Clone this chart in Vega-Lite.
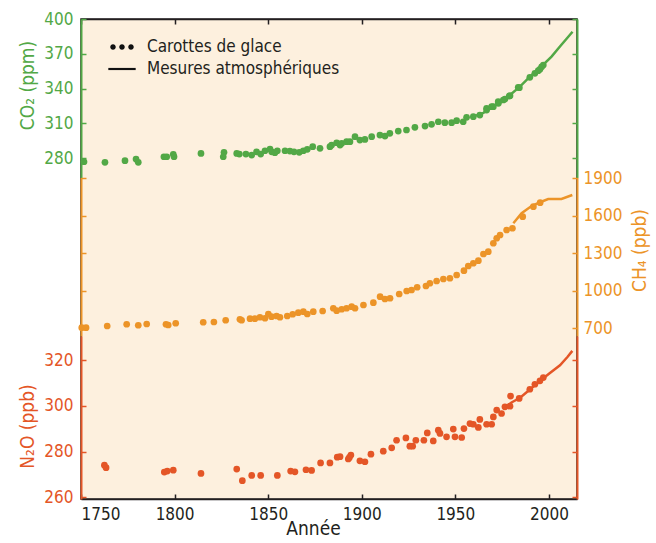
{
  "$schema": "https://vega.github.io/schema/vega-lite/v6.json",
  "width": 496,
  "height": 480,
  "autosize": {"type": "none"},
  "padding": {"left": 81, "top": 19, "right": 79, "bottom": 44},
  "background": "#ffffff",
  "view": {"fill": "#fdf0de", "stroke": "#231f20", "strokeWidth": 1.5},
  "config": {
    "font": "Liberation Sans Narrow, DejaVu Sans Condensed, sans-serif",
    "axis": {
      "grid": false,
      "labelFont": "Liberation Sans Narrow, DejaVu Sans Condensed, sans-serif",
      "titleFont": "Liberation Sans Narrow, DejaVu Sans Condensed, sans-serif",
      "labelFontSize": 17,
      "titleFontSize": 19,
      "titleFontWeight": "normal",
      "tickSize": -5,
      "tickWidth": 1.5,
      "domainWidth": 2,
      "labelPadding": 13,
      "format": "d"
    }
  },
  "datasets": {
    "co2_ice": [
      {"year": 1751.6, "value": 276.8}, {"year": 1762.8, "value": 276.3}, {"year": 1773.5, "value": 277.7},
      {"year": 1779.4, "value": 279.1}, {"year": 1780.6, "value": 276.3}, {"year": 1794.3, "value": 281.1},
      {"year": 1795.8, "value": 281.1}, {"year": 1799.3, "value": 283.2}, {"year": 1799.7, "value": 281.1},
      {"year": 1814.1, "value": 284.0}, {"year": 1826.4, "value": 284.9}, {"year": 1826.0, "value": 281.1},
      {"year": 1833.2, "value": 284.0}, {"year": 1834.6, "value": 283.4}, {"year": 1838.1, "value": 283.4},
      {"year": 1841.2, "value": 282.6}, {"year": 1843.8, "value": 285.4}, {"year": 1846.0, "value": 283.4},
      {"year": 1848.3, "value": 286.3}, {"year": 1851.0, "value": 287.8}, {"year": 1851.9, "value": 285.4},
      {"year": 1853.6, "value": 284.6}, {"year": 1854.9, "value": 286.3}, {"year": 1859.0, "value": 286.3},
      {"year": 1861.6, "value": 286.0}, {"year": 1863.8, "value": 285.4}, {"year": 1866.6, "value": 284.9},
      {"year": 1868.8, "value": 286.3}, {"year": 1870.9, "value": 287.5}, {"year": 1873.8, "value": 289.8},
      {"year": 1877.7, "value": 288.4}, {"year": 1883.0, "value": 289.8}, {"year": 1883.9, "value": 291.2},
      {"year": 1886.6, "value": 293.2}, {"year": 1888.4, "value": 291.2}, {"year": 1889.3, "value": 292.7},
      {"year": 1891.9, "value": 294.1}, {"year": 1893.7, "value": 294.1}, {"year": 1896.4, "value": 298.4},
      {"year": 1899.0, "value": 295.5}, {"year": 1901.7, "value": 296.1}, {"year": 1905.3, "value": 298.4},
      {"year": 1909.7, "value": 299.8}, {"year": 1912.4, "value": 299.0}, {"year": 1915.0, "value": 301.3},
      {"year": 1919.5, "value": 303.3}, {"year": 1923.9, "value": 304.2}, {"year": 1928.4, "value": 306.5},
      {"year": 1933.8, "value": 307.6}, {"year": 1937.3, "value": 309.1}, {"year": 1940.9, "value": 311.3},
      {"year": 1944.4, "value": 310.5}, {"year": 1948.0, "value": 310.5}, {"year": 1950.7, "value": 312.2},
      {"year": 1954.2, "value": 311.3}, {"year": 1956.0, "value": 315.1}, {"year": 1959.6, "value": 315.7},
      {"year": 1963.1, "value": 317.1}, {"year": 1966.7, "value": 321.4}, {"year": 1966.7, "value": 322.9},
      {"year": 1969.4, "value": 324.3}, {"year": 1970.3, "value": 324.3}, {"year": 1972.9, "value": 328.6},
      {"year": 1973.0, "value": 327.2}, {"year": 1975.6, "value": 330.1}, {"year": 1976.5, "value": 330.9},
      {"year": 1978.8, "value": 333.5}, {"year": 1979.2, "value": 333.8}, {"year": 1983.6, "value": 341.0},
      {"year": 1984.2, "value": 340.7}, {"year": 1989.8, "value": 349.7}, {"year": 1992.5, "value": 353.1},
      {"year": 1994.3, "value": 355.4}, {"year": 1995.2, "value": 356.6}, {"year": 1996.1, "value": 358.8},
      {"year": 1997.0, "value": 360.3}
    ],
    "co2_atm": [
      {"year": 1959, "value": 315.5}, {"year": 1965, "value": 319}, {"year": 1970, "value": 324},
      {"year": 1975, "value": 329.5}, {"year": 1979.2, "value": 334.4}, {"year": 1984.5, "value": 341.6},
      {"year": 1990, "value": 350.5}, {"year": 1995, "value": 357.5}, {"year": 2001.4, "value": 367.5},
      {"year": 2006, "value": 376.5}, {"year": 2010, "value": 384}, {"year": 2012.6, "value": 389}
    ],
    "ch4_ice": [
      {"year": 1750.4, "value": 705}, {"year": 1752.7, "value": 705}, {"year": 1764.0, "value": 718},
      {"year": 1774.4, "value": 732}, {"year": 1780.6, "value": 724}, {"year": 1785.1, "value": 734},
      {"year": 1795.4, "value": 732}, {"year": 1796.6, "value": 726}, {"year": 1800.6, "value": 740},
      {"year": 1815.3, "value": 748}, {"year": 1821.0, "value": 750}, {"year": 1827.3, "value": 764},
      {"year": 1834.9, "value": 772}, {"year": 1835.8, "value": 764}, {"year": 1840.3, "value": 777},
      {"year": 1842.9, "value": 777}, {"year": 1845.6, "value": 788}, {"year": 1848.3, "value": 780},
      {"year": 1850.1, "value": 814}, {"year": 1851.8, "value": 793}, {"year": 1854.5, "value": 798},
      {"year": 1856.3, "value": 788}, {"year": 1860.2, "value": 798}, {"year": 1863.1, "value": 812},
      {"year": 1866.1, "value": 825}, {"year": 1868.8, "value": 833}, {"year": 1870.9, "value": 814},
      {"year": 1874.1, "value": 833}, {"year": 1879.1, "value": 838}, {"year": 1884.8, "value": 860},
      {"year": 1886.6, "value": 841}, {"year": 1889.3, "value": 852}, {"year": 1891.9, "value": 860},
      {"year": 1894.6, "value": 873}, {"year": 1896.4, "value": 860}, {"year": 1900.9, "value": 886},
      {"year": 1906.2, "value": 905}, {"year": 1909.8, "value": 953}, {"year": 1912.4, "value": 934},
      {"year": 1915.1, "value": 940}, {"year": 1920.0, "value": 974}, {"year": 1924.0, "value": 998},
      {"year": 1926.6, "value": 1006}, {"year": 1929.6, "value": 1028}, {"year": 1934.3, "value": 1038},
      {"year": 1936.4, "value": 1060}, {"year": 1940.0, "value": 1078}, {"year": 1943.6, "value": 1094},
      {"year": 1947.1, "value": 1100}, {"year": 1950.7, "value": 1126}, {"year": 1954.6, "value": 1161},
      {"year": 1956.9, "value": 1198}, {"year": 1959.6, "value": 1220}, {"year": 1962.3, "value": 1241},
      {"year": 1965.0, "value": 1294}, {"year": 1967.6, "value": 1313}, {"year": 1970.3, "value": 1380},
      {"year": 1972.1, "value": 1420}, {"year": 1973.9, "value": 1446}, {"year": 1977.4, "value": 1486},
      {"year": 1980.5, "value": 1500}, {"year": 1986.0, "value": 1593}, {"year": 1991.7, "value": 1673},
      {"year": 1995.3, "value": 1705}
    ],
    "ch4_atm": [
      {"year": 1981, "value": 1540}, {"year": 1985.4, "value": 1620}, {"year": 1990.7, "value": 1678},
      {"year": 1995.3, "value": 1708}, {"year": 1999.6, "value": 1734}, {"year": 2006.7, "value": 1734},
      {"year": 2012.5, "value": 1766}
    ],
    "n2o_ice": [
      {"year": 1762.5, "value": 274.1}, {"year": 1763.4, "value": 273.0}, {"year": 1794.5, "value": 271.1},
      {"year": 1796.1, "value": 271.5}, {"year": 1799.3, "value": 271.9}, {"year": 1814.1, "value": 270.5},
      {"year": 1833.2, "value": 272.4}, {"year": 1836.2, "value": 267.3}, {"year": 1841.2, "value": 269.6},
      {"year": 1846.0, "value": 269.6}, {"year": 1854.9, "value": 269.6}, {"year": 1862.0, "value": 271.5},
      {"year": 1864.3, "value": 271.2}, {"year": 1870.2, "value": 272.1}, {"year": 1873.2, "value": 271.8},
      {"year": 1878.0, "value": 275.1}, {"year": 1883.0, "value": 275.1}, {"year": 1886.9, "value": 277.6},
      {"year": 1888.4, "value": 277.8}, {"year": 1892.8, "value": 276.8}, {"year": 1893.4, "value": 277.5},
      {"year": 1894.2, "value": 278.5}, {"year": 1899.0, "value": 276.0}, {"year": 1901.7, "value": 275.6},
      {"year": 1904.9, "value": 278.9}, {"year": 1911.5, "value": 280.2}, {"year": 1916.0, "value": 281.7},
      {"year": 1918.6, "value": 285.0}, {"year": 1923.6, "value": 286.0}, {"year": 1925.7, "value": 282.4},
      {"year": 1927.2, "value": 282.4}, {"year": 1928.9, "value": 285.0}, {"year": 1933.2, "value": 285.0},
      {"year": 1935.0, "value": 288.2}, {"year": 1938.2, "value": 284.7}, {"year": 1940.9, "value": 289.4},
      {"year": 1941.8, "value": 288.0}, {"year": 1945.3, "value": 286.5}, {"year": 1948.9, "value": 289.9},
      {"year": 1949.8, "value": 286.5}, {"year": 1953.4, "value": 286.2}, {"year": 1954.6, "value": 290.1},
      {"year": 1957.8, "value": 292.3}, {"year": 1959.6, "value": 292.0}, {"year": 1962.3, "value": 290.6},
      {"year": 1963.1, "value": 294.1}, {"year": 1966.7, "value": 292.0}, {"year": 1969.4, "value": 292.0},
      {"year": 1970.3, "value": 295.2}, {"year": 1972.1, "value": 298.2}, {"year": 1974.7, "value": 296.7},
      {"year": 1976.5, "value": 299.6}, {"year": 1979.2, "value": 299.9}, {"year": 1979.5, "value": 304.3},
      {"year": 1984.1, "value": 303.3}, {"year": 1989.8, "value": 307.3}, {"year": 1992.5, "value": 309.5},
      {"year": 1995.2, "value": 311.0}, {"year": 1997.0, "value": 312.4}
    ],
    "n2o_atm": [
      {"year": 1977, "value": 299.5}, {"year": 1980, "value": 301.5}, {"year": 1984.6, "value": 303.6},
      {"year": 1990, "value": 307.3}, {"year": 1995, "value": 310.8}, {"year": 2000.2, "value": 314.2},
      {"year": 2005.9, "value": 317.8}, {"year": 2010, "value": 321.5}, {"year": 2012.5, "value": 324.1}
    ],
    "sources": [
      {"source": "Carottes de glace"}, {"source": "Mesures atmosphériques"}
    ]
  },
  "layer": [
    {
      "data": {"name": "co2_ice"},
      "mark": {"type": "circle", "size": 45, "opacity": 1, "color": "#52a846"},
      "encoding": {
        "x": {
          "field": "year", "type": "quantitative",
          "scale": {"domain": [1750, 2015], "nice": false, "zero": false},
          "axis": {
            "orient": "bottom", "values": [1750, 1800, 1850, 1900, 1950, 2000], "format": "d",
            "title": "Année", "titleX": 232, "titleY": 35, "titleBaseline": "alphabetic",
            "domainColor": "#231f20", "domainWidth": 1.5, "tickColor": "#231f20",
            "labelColor": "#231f20", "titleColor": "#231f20", "labelPadding": 12
          }
        },
        "y": {
          "field": "value", "type": "quantitative",
          "scale": {"domain": [263.2, 400], "range": [158.5, 0], "nice": false, "zero": false},
          "axis": {
            "orient": "left", "values": [280, 310, 340, 370, 400], "format": "d",
            "title": "CO₂ (ppm)", "titleAngle": -90, "titleX": -48, "titleY": 66,
            "titleAlign": "center", "titleBaseline": "alphabetic",
            "domainColor": "#52a846", "tickColor": "#52a846",
            "labelColor": "#52a846", "titleColor": "#52a846"
          }
        }
      }
    },
    {
      "data": {"name": "co2_atm"},
      "mark": {"type": "line", "strokeWidth": 2.5, "color": "#52a846"},
      "encoding": {
        "x": {
          "field": "year", "type": "quantitative",
          "scale": {"domain": [1750, 2015], "nice": false, "zero": false},
          "axis": {
            "orient": "top", "values": [1750, 1800, 1850, 1900, 1950, 2000],
            "labels": false, "title": null,
            "domainColor": "#231f20", "domainWidth": 1.5, "tickColor": "#231f20"
          }
        },
        "y": {
          "field": "value", "type": "quantitative",
          "scale": {"domain": [263.2, 400], "range": [158.5, 0], "nice": false, "zero": false},
          "axis": {
            "orient": "right", "values": [280, 310, 340, 370, 400],
            "labels": false, "title": null,
            "domainColor": "#52a846", "tickColor": "#52a846"
          }
        }
      }
    },
    {
      "data": {"name": "ch4_ice"},
      "mark": {"type": "circle", "size": 45, "opacity": 1, "color": "#ec9428"},
      "encoding": {
        "x": {
          "field": "year", "type": "quantitative",
          "scale": {"domain": [1750, 2015], "nice": false, "zero": false},
          "axis": null
        },
        "y": {
          "field": "value", "type": "quantitative",
          "scale": {"domain": [638, 1906], "range": [317, 158.5], "nice": false, "zero": false},
          "axis": {
            "orient": "right", "values": [700, 1000, 1300, 1600, 1900], "format": "d",
            "title": "CH₄ (ppb)", "titleAngle": -90, "titleX": 68, "titleY": 231,
            "titleAlign": "center", "titleBaseline": "alphabetic",
            "labelPadding": 11,
            "domainColor": "#ec9428", "tickColor": "#ec9428",
            "labelColor": "#ec9428", "titleColor": "#ec9428"
          }
        }
      }
    },
    {
      "data": {"name": "ch4_atm"},
      "mark": {"type": "line", "strokeWidth": 2.5, "color": "#ec9428"},
      "encoding": {
        "x": {
          "field": "year", "type": "quantitative",
          "scale": {"domain": [1750, 2015], "nice": false, "zero": false},
          "axis": null
        },
        "y": {
          "field": "value", "type": "quantitative",
          "scale": {"domain": [638, 1906], "range": [317, 158.5], "nice": false, "zero": false},
          "axis": {
            "orient": "left", "values": [700, 1000, 1300, 1600, 1900],
            "labels": false, "title": null,
            "domainColor": "#ec9428", "tickColor": "#ec9428"
          }
        }
      }
    },
    {
      "data": {"name": "n2o_ice"},
      "mark": {"type": "circle", "size": 45, "opacity": 1, "color": "#e45627"},
      "encoding": {
        "x": {
          "field": "year", "type": "quantitative",
          "scale": {"domain": [1750, 2015], "nice": false, "zero": false},
          "axis": null
        },
        "y": {
          "field": "value", "type": "quantitative",
          "scale": {"domain": [259.3, 330.6], "range": [480, 317], "nice": false, "zero": false},
          "axis": {
            "orient": "left", "values": [260, 280, 300, 320], "format": "d",
            "title": "N₂O (ppb)", "titleAngle": -90, "titleX": -48, "titleY": 407,
            "titleAlign": "center", "titleBaseline": "alphabetic",
            "domainColor": "#e45627", "tickColor": "#e45627",
            "labelColor": "#e45627", "titleColor": "#e45627"
          }
        }
      }
    },
    {
      "data": {"name": "n2o_atm"},
      "mark": {"type": "line", "strokeWidth": 2.5, "color": "#e45627"},
      "encoding": {
        "x": {
          "field": "year", "type": "quantitative",
          "scale": {"domain": [1750, 2015], "nice": false, "zero": false},
          "axis": null
        },
        "y": {
          "field": "value", "type": "quantitative",
          "scale": {"domain": [259.3, 330.6], "range": [480, 317], "nice": false, "zero": false},
          "axis": {
            "orient": "right", "values": [260, 280, 300, 320],
            "labels": false, "title": null,
            "domainColor": "#e45627", "tickColor": "#e45627"
          }
        }
      }
    },
    {
      "data": {"name": "sources"},
      "mark": {"type": "point", "filled": true, "opacity": 0, "color": "#111111"},
      "encoding": {
        "shape": {
          "field": "source", "type": "nominal",
          "scale": {
            "domain": ["Carottes de glace", "Mesures atmosphériques"],
            "range": [
              "M-0.98,0a0.23,0.23 0 1,0 0.46,0a0.23,0.23 0 1,0 -0.46,0ZM-0.23,0a0.23,0.23 0 1,0 0.46,0a0.23,0.23 0 1,0 -0.46,0ZM0.52,0a0.23,0.23 0 1,0 0.46,0a0.23,0.23 0 1,0 -0.46,0Z",
              "M-1.14,-0.09H1.14V0.09H-1.14Z"
            ]
          },
          "legend": {
            "title": null, "orient": "none", "legendX": 29, "legendY": 16,
            "padding": 0, "symbolSize": 576, "symbolOpacity": 1,
            "symbolFillColor": "#111111", "symbolStrokeWidth": 0,
            "labelFont": "Liberation Sans Narrow, DejaVu Sans Condensed, sans-serif",
            "labelFontSize": 17, "labelColor": "#231f20", "labelOffset": 13,
            "labelLimit": 400, "rowPadding": 2
          }
        }
      }
    }
  ],
  "resolve": {
    "scale": {"y": "independent"},
    "axis": {"x": "independent", "y": "independent"}
  }
}
